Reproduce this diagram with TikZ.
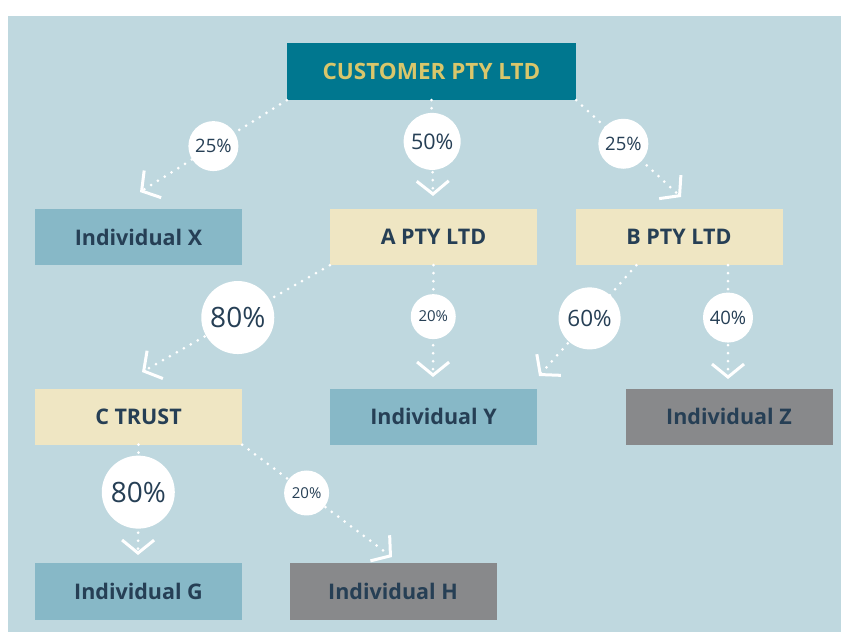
\documentclass[tikz,border=0pt]{standalone}
\usepackage{fontspec}
\setmainfont{Open Sans}
\usepackage{tikz}
\usetikzlibrary{calc,arrows.meta}

\definecolor{bgblue}{HTML}{BFD8DF}
\definecolor{darkteal}{HTML}{00778F}
\definecolor{goldtext}{HTML}{D9C66B}
\definecolor{lightteal}{HTML}{87B8C7}
\definecolor{cream}{HTML}{EFE6C3}
\definecolor{midgrey}{HTML}{88898B}
\definecolor{slate}{HTML}{263F55}

\begin{document}
\begin{tikzpicture}[x=1pt,y=-1pt,
box/.style={rectangle,minimum width=207pt,minimum height=56pt,inner sep=0pt,font=\fontsize{21.5}{21.5}\selectfont\bfseries,text=slate},
person/.style={box,fill=lightteal},
company/.style={box,fill=cream},
outsider/.style={box,fill=midgrey},
share/.style={draw=white,line width=3pt,line cap=round,dash pattern=on 0pt off 8pt,-{Straight Barb[length=13pt,width=32pt,line width=3pt]}},
pct/.style 2 args={circle,fill=white,inner sep=0pt,minimum size=#1,text=slate,font=\fontsize{#2}{#2}\selectfont}]
\useasboundingbox (0,0) rectangle (841,632);
\fill[bgblue] (8,16) rectangle (841,632);
% boxes
\node at (431.5,71.5)[box,fill=darkteal,minimum width=289pt,minimum height=57pt,text=goldtext,font=\fontsize{22.5}{22.5}\selectfont\bfseries] (cust) {CUSTOMER PTY LTD};
\node at (138.5,237)[person] (indx) {Individual X};
\node at (433.5,237)[company] (apty) {A PTY LTD};
\node at (679,237)[company] (bpty) {B PTY LTD};
\node at (138.5,416.5)[company] (ctrust) {C TRUST};
\node at (433.5,416.5)[person] (indy) {Individual Y};
\node at (729,416.5)[outsider] (indz) {Individual Z};
\node at (138.5,591.5)[person,minimum height=57pt] (indg) {Individual G};
\node at (393,591.5)[outsider,minimum height=57pt] (indh) {Individual H};
% arrow ends
\coordinate (tx) at (140,192);
\coordinate (ta) at (433,196);
\coordinate (tb) at (681,197);
\coordinate (tc) at (142,372);
\coordinate (tya) at (433,377);
\coordinate (tyb) at (539,376);
\coordinate (tz) at (728,379);
\coordinate (tg) at (138,555);
\coordinate (th) at (392,557);
% shares
\draw[share] (cust.south west) -- node[pct={50pt}{18.5},pos=0.5]{25\%} (tx);
\draw[share] (cust.south) -- node[pct={57pt}{21.5},pos=0.43]{50\%} (ta);
\draw[share] (cust.south east) -- node[pct={50pt}{18.5},pos=0.45]{25\%} (tb);
\draw[share] (apty.south west) -- node[pct={73pt}{28},pos=0.49]{80\%} (tc);
\draw[share] (apty.south) -- node[pct={45pt}{15},pos=0.46]{20\%} (tya);
\draw[share] ($(bpty.south west)+(61,0)$) -- node[pct={62pt}{22.5},pos=0.48]{60\%} (tyb);
\draw[share] (tz |- bpty.south) -- node[pct={50pt}{18.5},pos=0.46]{40\%} (tz);
\draw[share] (ctrust.south) -- node[pct={73pt}{28},pos=0.43]{80\%} (tg);
\draw[share] (ctrust.south east) -- node[pct={45pt}{15},pos=0.43]{20\%} (th);
\end{tikzpicture}
\end{document}
